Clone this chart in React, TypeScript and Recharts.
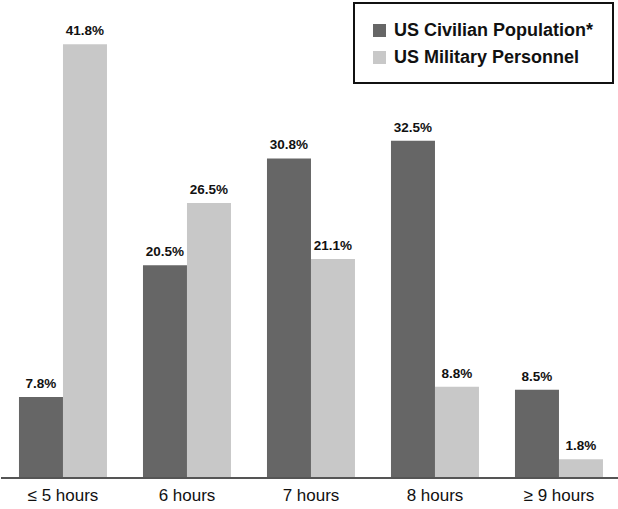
import { BarChart, Bar, XAxis, YAxis, LabelList } from 'recharts';

const categories = ['≤ 5 hours', '6 hours', '7 hours', '8 hours', '≥ 9 hours'];
const civilian = [7.8, 20.5, 30.8, 32.5, 8.5];
const military = [41.8, 26.5, 21.1, 8.8, 1.8];

const data = categories.map((name, i) => ({ name, civilian: civilian[i], military: military[i] }));

const FONT = '"Liberation Sans Narrow", "Liberation Sans", Arial, sans-serif';
const DARK = '#666666';
const LIGHT = '#c8c8c8';

const LegendBox = () => (
  <div
    style={{
      position: 'absolute',
      left: 353,
      top: 2,
      border: '2px solid #111',
      background: '#fff',
      width: 261,
      height: 82,
      boxSizing: 'border-box',
      padding: '13px 0 0 18px',
      fontFamily: FONT,
      fontWeight: 700,
      fontSize: 18,
      color: '#111',
    }}
  >
    {[
      { label: 'US Civilian Population*', color: DARK },
      { label: 'US Military Personnel', color: LIGHT },
    ].map((s) => (
      <div key={s.label} style={{ display: 'flex', alignItems: 'center', height: 27 }}>
        <div style={{ width: 13, height: 13, background: s.color, marginRight: 8 }} />
        <span>{s.label}</span>
      </div>
    ))}
  </div>
);

export default function App() {
  return (
    <div style={{ position: 'absolute', left: 0, top: 0, width: 618, height: 509, background: '#fff' }}>
      <BarChart
        width={621}
        height={509}
        data={data}
        margin={{ top: 8, right: 0, left: 1, bottom: 0 }}
        barCategoryGap="14.5%"
        barGap={0}
      >
        <XAxis
          dataKey="name"
          height={31}
          interval={0}
          axisLine={{ stroke: '#555', strokeWidth: 2 }}
          tickLine={false}
          tick={{ fontFamily: FONT, fontSize: 17, fill: '#111' }}
          dy={3}
        />
        <YAxis
          width={0}
          domain={[0, 45.3]}
          tick={false}
          tickLine={false}
          axisLine={{ stroke: '#555', strokeWidth: 3 }}
        />
        <Bar dataKey="civilian" fill={DARK} isAnimationActive={false}>
          <LabelList
            dataKey="civilian"
            position="top"
            offset={9}
            formatter={(v: any) => `${v}%`}
            style={{ fontFamily: FONT, fontWeight: 700, fontSize: 13.5, fill: '#111' }}
          />
        </Bar>
        <Bar dataKey="military" fill={LIGHT} isAnimationActive={false}>
          <LabelList
            dataKey="military"
            position="top"
            offset={9}
            formatter={(v: any) => `${v}%`}
            style={{ fontFamily: FONT, fontWeight: 700, fontSize: 13.5, fill: '#111' }}
          />
        </Bar>
      </BarChart>
      <LegendBox />
    </div>
  );
}
